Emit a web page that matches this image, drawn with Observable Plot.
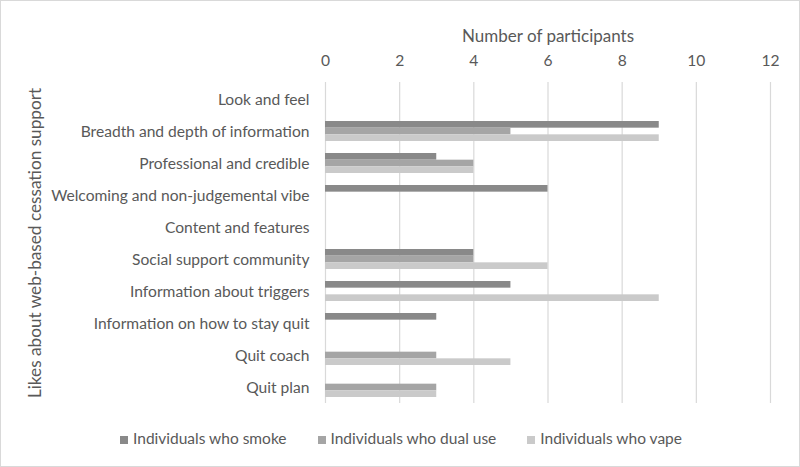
<!DOCTYPE html>
<html><head><meta charset="utf-8">
<script src="https://cdn.jsdelivr.net/npm/d3@7"></script>
<script src="https://cdn.jsdelivr.net/npm/@observablehq/plot@0.6"></script>
<style>
html,body{margin:0;padding:0;background:#fff;}
#wrap{width:800px;height:467px;box-sizing:border-box;border:1px solid #d9d9d9;position:relative;font-family:Lato,sans-serif;color:#595959;}
#chart svg{display:block;}
#legend{position:absolute;top:428px;left:0;width:800px;display:flex;justify-content:center;gap:31px;font-size:15.5px;}
#legend span.sw{display:inline-block;width:8px;height:8px;margin-right:5px;}
</style></head><body>
<div id="wrap"><div id="chart"></div><div id="legend"></div></div>
<script>
const categories = ["Look and feel","Breadth and depth of information","Professional and credible","Welcoming and non-judgemental vibe","Content and features","Social support community","Information about triggers","Information on how to stay quit","Quit coach","Quit plan"];
const seriesNames = ["Individuals who smoke","Individuals who dual use","Individuals who vape"];
const smoke = [0,9,3,6,0,4,5,3,0,0];
const dual  = [0,5,4,0,0,4,0,0,3,3];
const vape  = [0,9,4,0,0,6,9,0,5,3];
const colors = ["#898989","#a5a5a5","#cacaca"];
const xTicks = [0,2,4,6,8,10,12];
const xTitle = "Number of participants";
const yTitle = "Likes about web-based cessation support";

const vals = [smoke, dual, vape];
const data = vals.map((arr, s) => categories.map((c, i) => ({category: c, series: seriesNames[s], value: arr[i]})));
const bw = 20, third = bw / 3;
const insets = [[0, 2*third],[third, third],[2*third, 0]];

const plot = Plot.plot({
  width: 798, height: 420,
  marginLeft: 324, marginRight: 29, marginTop: 81, marginBottom: 18,
  style: {fontFamily: "Lato, sans-serif", fontSize: "15.6px", color: "#595959", background: "transparent"},
  x: {domain: [0, 12], ticks: xTicks},
  y: {domain: categories, paddingInner: 0.377, paddingOuter: 0.1885},
  marks: [
    Plot.gridX(xTicks, {stroke: "#d9d9d9", strokeOpacity: 1, strokeWidth: 1.2}),
    ...data.map((d, s) => Plot.barX(d, {x: "value", y: "category", fill: colors[s], insetTop: insets[s][0], insetBottom: insets[s][1]})),
    Plot.axisX({anchor: "top", ticks: xTicks, tickSize: 0, tickPadding: 17, label: null}),
    Plot.axisY({anchor: "left", tickSize: 0, tickPadding: 16, label: null}),
    Plot.text([xTitle], {frameAnchor: "top", dy: -53, fontSize: 17, fill: "#595959"}),
    Plot.text([yTitle], {frameAnchor: "left", dx: -290, rotate: -90, textAnchor: "middle", fontSize: 17.2, fill: "#595959"})
  ]
});
document.getElementById("chart").appendChild(plot);
const lg = document.getElementById("legend");
seriesNames.forEach((n, i) => {
  const d = document.createElement("div");
  d.innerHTML = `<span class="sw" style="background:${colors[i]}"></span>${n}`;
  lg.appendChild(d);
});
</script></body></html>
